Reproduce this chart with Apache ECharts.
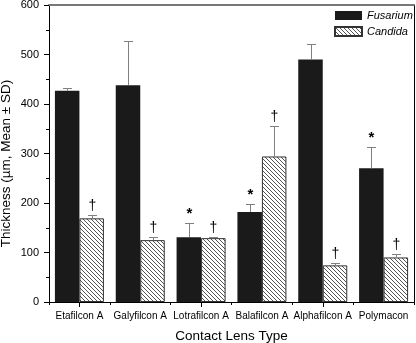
<!DOCTYPE html>
<html>
<head>
<meta charset="utf-8">
<script src="https://cdn.jsdelivr.net/npm/echarts@6/dist/echarts.min.js"></script>
<style>
	html,body{margin:0;padding:0;background:#fff;}
	#chart{width:416px;height:343px;}
</style>
</head>
<body>
<div id="chart"></div>
<script>
	// data
	const lensTypes = ['Etafilcon A', 'Galyfilcon A', 'Lotrafilcon A', 'Balafilcon A', 'Alphafilcon A', 'Polymacon'];
	const fusariumMean = [427, 438, 131, 182, 490, 270];
	const fusariumSD = [6, 90, 29, 16, 32, 43];
	const fusariumMark = ['', '', '*', '*', '', '*'];
	const candidaMean = [169, 125, 129, 294, 74, 90];
	const candidaSD = [6, 6, 3, 61, 4, 6];
	const candidaMark = ['†', '†', '†', '†', '†', '†'];
	const yTicks = [0, 100, 200, 300, 400, 500, 600];

	const font = "'Liberation Sans', Arial, sans-serif";
	const barW = 24.5;

	// diagonal hatch for Candida bars
	function makeHatch() {
		const c = document.createElement('canvas');
		c.width = 4; c.height = 4;
		const ctx = c.getContext('2d');
		ctx.fillStyle = '#fff';
		ctx.fillRect(0, 0, 4, 4);
		ctx.strokeStyle = '#555';
		ctx.lineWidth = 1;
		ctx.beginPath();
		ctx.moveTo(-1, -1); ctx.lineTo(5, 5);
		ctx.moveTo(-1, 3); ctx.lineTo(1, 5);
		ctx.moveTo(3, -1); ctx.lineTo(5, 1);
		ctx.stroke();
		return c;
	}

	// error bar (upper whisker) + significance mark
	function errRender(side, marks, markFont) {
		return function (params, api) {
			const i = api.value(0);
			const top = api.coord([i, api.value(1)]);
			const base = api.coord([i, api.value(2)]);
			const x = Math.round(top[0] + side * barW / 2) + 0.5;
			const yt = Math.round(top[1]) + 0.5;
			const children = [
				{type: 'line', shape: {x1: x, y1: base[1], x2: x, y2: yt}, style: {stroke: '#808080', lineWidth: 1}},
				{type: 'line', shape: {x1: x - 4.5, y1: yt, x2: x + 4.5, y2: yt}, style: {stroke: '#808080', lineWidth: 1}}
			];
			const m = marks[params.dataIndex];
			if (m) {
				children.push({
					type: 'text',
					style: {text: m, x: x, y: yt - 2, align: 'center', verticalAlign: 'bottom', font: markFont, fill: '#000'}
				});
			}
			return {type: 'group', children: children};
		};
	}

	const errData = (mean, sd) => mean.map((v, i) => [i, v + sd[i], v]);

	const myChart = echarts.init(document.getElementById('chart'));
	const option = {
		animation: false,
		backgroundColor: '#fff',
		grid: {left: 49, right: 2, top: 5, bottom: 41, outerBoundsMode: 'none'},
		legend: {
			data: ['Fusarium', 'Candida'],
			orient: 'vertical',
			left: 334,
			top: 10,
			padding: 0,
			itemWidth: 27,
			itemHeight: 9,
			itemGap: 5,
			icon: 'rect',
			textStyle: {fontStyle: 'italic', fontSize: 11, color: '#000', fontFamily: font}
		},
		xAxis: [{
			type: 'category',
			position: 'bottom',
			data: lensTypes,
			name: 'Contact Lens Type',
			nameLocation: 'middle',
			nameGap: 27,
			nameMoveOverlap: false,
			nameTextStyle: {fontSize: 13.5, color: '#000', fontFamily: font},
			axisLine: {lineStyle: {color: '#000', width: 1}},
			axisTick: {show: true, alignWithLabel: false, length: 3, lineStyle: {color: '#000'}},
			axisLabel: {fontSize: 10, color: '#000', fontFamily: font, margin: 9, interval: 0}
		}, {
			type: 'category',
			position: 'bottom',
			data: lensTypes,
			axisLine: {show: false},
			axisTick: {show: true, alignWithLabel: true, length: 5, lineStyle: {color: '#000'}},
			axisLabel: {show: false}
		}, {
			type: 'category',
			position: 'top',
			data: lensTypes,
			axisLine: {lineStyle: {color: '#777', width: 2}},
			axisTick: {show: false},
			axisLabel: {show: false}
		}],
		yAxis: [{
			type: 'value',
			position: 'left',
			min: yTicks[0],
			max: yTicks[yTicks.length - 1],
			interval: yTicks[1] - yTicks[0],
			name: 'Thickness (µm, Mean ± SD)',
			nameLocation: 'middle',
			nameGap: 36,
			nameMoveOverlap: false,
			nameTextStyle: {fontSize: 13.5, color: '#000', fontFamily: font, padding: [0, 20, 0, 0]},
			axisLine: {show: true, lineStyle: {color: '#000', width: 1}},
			axisTick: {show: true, length: 5, lineStyle: {color: '#000'}},
			minorTick: {show: true, splitNumber: 2, length: 3, lineStyle: {color: '#000'}},
			splitLine: {show: false},
			axisLabel: {fontSize: 11, color: '#000', fontFamily: font, margin: 10}
		}, {
			type: 'value',
			position: 'right',
			min: yTicks[0],
			max: yTicks[yTicks.length - 1],
			axisLine: {show: true, lineStyle: {color: '#000', width: 1}},
			axisTick: {show: false},
			axisLabel: {show: false},
			splitLine: {show: false}
		}],
		series: [{
			name: 'Fusarium',
			type: 'bar',
			data: fusariumMean,
			barWidth: barW,
			barGap: '0%',
			itemStyle: {color: '#1a1a1a'}
		}, {
			name: 'Candida',
			type: 'bar',
			data: candidaMean,
			barWidth: barW,
			barGap: '0%',
			itemStyle: {color: {image: makeHatch(), repeat: 'repeat'}, borderColor: '#333', borderWidth: 1}
		}, {
			type: 'custom',
			z: 5,
			data: errData(fusariumMean, fusariumSD),
			renderItem: errRender(-1, fusariumMark, 'bold 15px ' + font)
		}, {
			type: 'custom',
			z: 5,
			data: errData(candidaMean, candidaSD),
			renderItem: errRender(1, candidaMark, '14px ' + font)
		}]
	};
	myChart.setOption(option);
</script>
</body>
</html>
